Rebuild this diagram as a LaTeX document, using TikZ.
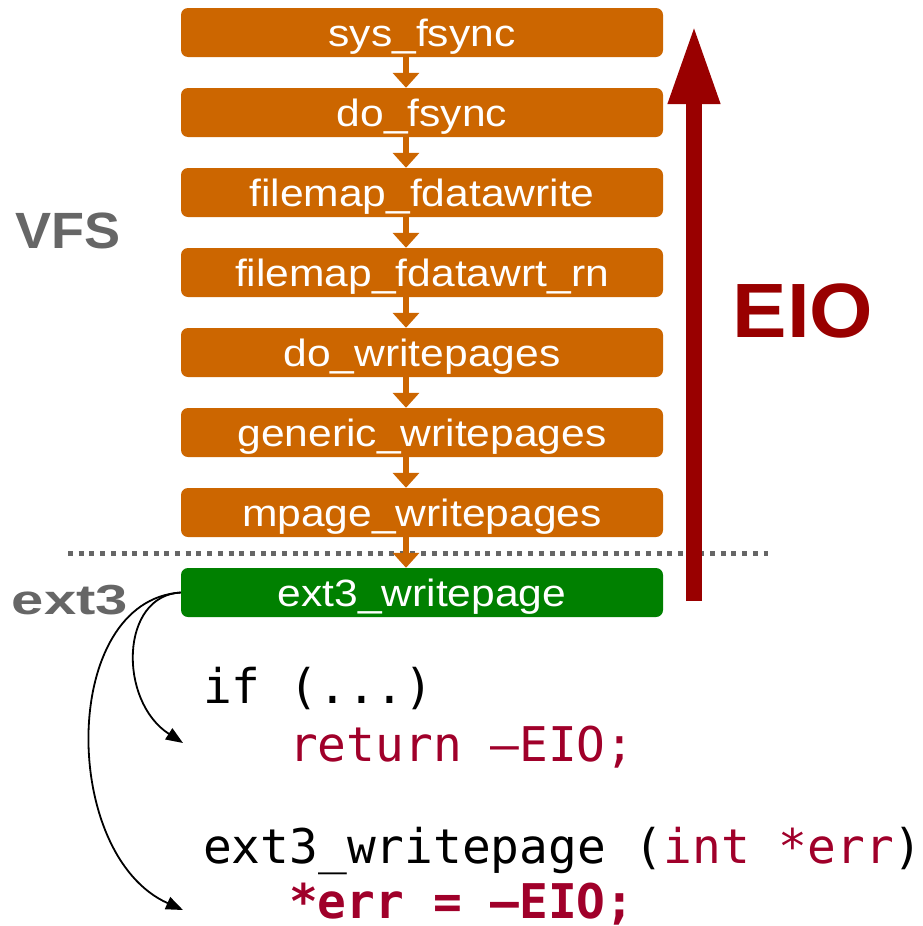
\documentclass[tikz,border=0pt]{standalone}
\usepackage{fontspec}
\setmainfont{Liberation Sans}
\newfontfamily\boxfont[FakeStretch=1.12]{Liberation Sans}
\newfontfamily\labelfont{Liberation Sans}
\newfontfamily\widelabelfont[FakeStretch=1.06]{Liberation Sans}
\newfontfamily\codefont{DejaVu Sans Mono}
\usetikzlibrary{arrows.meta}
\definecolor{callorange}{HTML}{CC6600}
\definecolor{fsgreen}{HTML}{008000}
\definecolor{errred}{HTML}{990000}
\definecolor{labelgray}{HTML}{666666}
\definecolor{codered}{HTML}{A0002A}
\begin{document}
\begin{tikzpicture}[x=1pt,y=-1pt,
  callbox/.style={rectangle, rounded corners=7pt, fill=callorange, text=white,
    minimum width=482pt, minimum height=49pt, inner sep=0pt,
    text height=28pt, text depth=0pt,
    font=\boxfont\fontsize{38pt}{40pt}\selectfont},
  fsbox/.style={callbox, fill=fsgreen},
  callarrow/.style={draw=callorange, line width=6pt,
    -{Triangle[length=15pt,width=26pt]}},
  eioarrow/.style={draw=errred, line width=16pt,
    -{Triangle[length=79pt,width=48pt]}},
  layerline/.style={draw=labelgray, line width=5pt, dash pattern=on 5pt off 5.7pt},
  layerlabel/.style={text=labelgray, inner sep=0pt,
    font=\widelabelfont\bfseries\fontsize{51pt}{53pt}\selectfont},
  pathlink/.style={draw=black, line width=1.8pt,
    -{Triangle[length=17pt,width=13pt]}},
  code/.style={anchor=base west, inner sep=0pt,
    font=\codefont\fontsize{47.8pt}{56pt}\selectfont},
]
\useasboundingbox (0,0) rectangle (923,926);

% layer boundary between VFS and ext3
\draw[layerline] (68,553) coordinate (lineL) -- (768,553) coordinate (lineR);

% VFS call chain
\node[callbox] (b1) at (422,32.5)  {sys\_fsync};
\node[callbox] (b2) at (422,112.5) {do\_fsync};
\node[callbox] (b3) at (422,192.5) {filemap\_fdatawrite};
\node[callbox] (b4) at (422,272.5) {filemap\_fdatawrt\_rn};
\node[callbox] (b5) at (422,352.5) {do\_writepages};
\node[callbox] (b6) at (422,432.5) {generic\_writepages};
\node[callbox] (b7) at (422,512.5) {mpage\_writepages};
\node[fsbox]   (b8) at (422,592.5) {ext3\_writepage};

\foreach \a/\b in {b1/b2,b2/b3,b3/b4,b4/b5,b5/b6,b6/b7,b7/b8}
  \draw[callarrow] ([xshift=-16pt]\a.south) -- ([xshift=-16pt]\b.north);

% error propagating back up
\coordinate (eiobot) at (694,601);
\coordinate (eiotop) at (694,25);
\draw[eioarrow] (eiobot) -- (eiotop);
\node[text=errred, inner sep=0pt,
  font=\widelabelfont\bfseries\fontsize{77pt}{80pt}\selectfont] (eio) at (803,311) {EIO};

% layer labels
\node[layerlabel] (vfs) at (68,231) {VFS};
\node[layerlabel, font=\labelfont\bfseries\fontsize{42pt}{44pt}\selectfont]
  (ext3) at (70,600) {\scalebox{1.38}[1]{ext3}};

% code fragments
\node[code] (c1) at (203,703) {if (...)};
\node[code, text=codered] (c2) at (289,761) {return –EIO;};
\node[code] (c3) at (203,863) {ext3\_writepage (\textcolor{codered}{int *err})};
\node[code, text=codered, font=\codefont\bfseries\fontsize{47.8pt}{56pt}\selectfont]
  (c4) at (289,918) {*err = –EIO;};

% links from ext3_writepage to the two error paths
\coordinate (t1) at (183,743);
\coordinate (t2) at (183,910);
\draw[pathlink] (b8.west) .. controls +(-61,3) and +(-65,-42) .. (t1);
\draw[pathlink] (b8.west) .. controls +(-121,8) and +(-123,-55) .. (t2);
\end{tikzpicture}
\end{document}
